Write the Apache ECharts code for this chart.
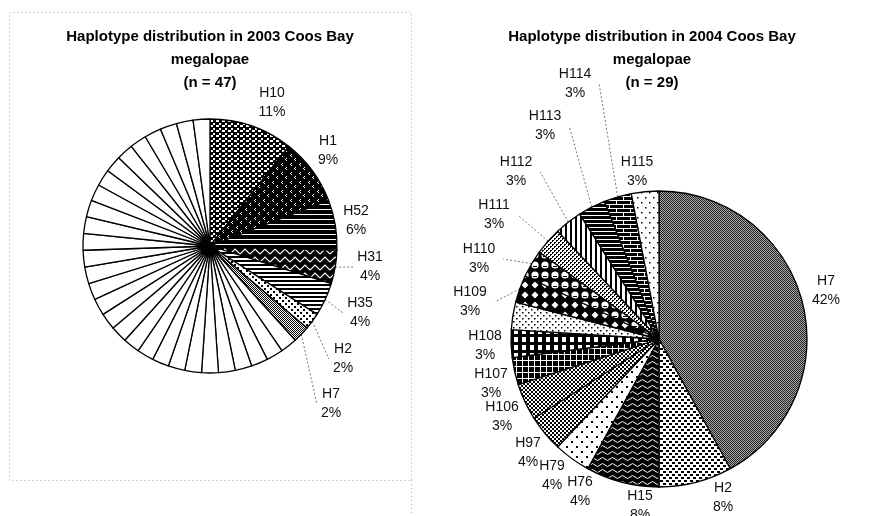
<!DOCTYPE html>
<html>
<head>
<meta charset="utf-8">
<script src="https://cdn.jsdelivr.net/npm/echarts@6/dist/echarts.min.js"></script>
<style>
  html, body { margin: 0; padding: 0; background: #fff; }
  #chart { width: 881px; height: 516px; }
</style>
</head>
<body>
<div id="chart"></div>
<script>
// ---- 2003 sample (n = 47): haplotypes seen more than once, and their counts
const hap2003 = ['H10', 'H1', 'H52', 'H31', 'H35', 'H2', 'H7'];
const count2003 = [5, 4, 3, 2, 2, 1, 1];
// haplotypes carried by a single megalopa each (unlabelled white slices)
const single2003 = [1, 1, 1, 1, 1, 1, 1, 1, 1, 1, 1, 1, 1, 1, 1, 1, 1, 1, 1, 1, 1, 1, 1, 1, 1, 1, 1, 1, 1];

// ---- 2004 sample (n = 29): haplotypes and their share of the sample (%)
const hap2004 = ['H7', 'H2', 'H15', 'H76', 'H79', 'H97', 'H106', 'H107', 'H108',
                 'H109', 'H110', 'H111', 'H112', 'H113', 'H114', 'H115'];
const pct2004 = [42, 8, 8, 4, 4, 4, 3, 3, 3, 3, 3, 3, 3, 3, 3, 3];

const title2003 = 'Haplotype distribution in 2003 Coos Bay\nmegalopae\n(n = 47)';
const title2004 = 'Haplotype distribution in 2004 Coos Bay\nmegalopae\n(n = 29)';

// ---- layout: pie geometry and label placement (offsets from the pie centre)
const pie2003 = { cx: 210, cy: 246, r: 127 };
const pie2004 = { cx: 659, cy: 339, r: 148 };
const labelOffset2003 = [[62, -143], [118, -95], [146, -25], [160, 21], [150, 67], [133, 113], [121, 158]];
const leader2003 = [false, false, false, true, true, true, true];
const labelOffset2004 = [[167, -48], [64, 159], [-19, 167], [-79, 153], [-107, 137], [-131, 114],
                         [-157, 78], [-168, 45], [-174, 7], [-189, -37], [-180, -80], [-165, -124],
                         [-143, -167], [-114, -213], [-84, -255], [-22, -167]];
const leader2004 = [false, false, false, false, false, false, false, false, false,
                    true, true, true, true, true, true, false];

const FONT = '"Liberation Sans", Arial, Helvetica, sans-serif';

// ---- monochrome fill patterns
function tile(w, h, bg, draw) {
  const c = document.createElement('canvas');
  c.width = w; c.height = h;
  const g = c.getContext('2d');
  g.fillStyle = bg; g.fillRect(0, 0, w, h);
  g.fillStyle = bg === '#000' ? '#fff' : '#000';
  g.strokeStyle = g.fillStyle;
  draw(g);
  return { image: c, repeat: 'repeat' };
}
const px = (g, pts) => pts.forEach(p => g.fillRect(p[0], p[1], p[2] || 1, p[3] || 1));

const patterns2003 = [
  // H10: white blocks on black
  tile(6, 5, '#000', g => px(g, [[0, 0, 3, 2], [3, 3, 2, 2]])),
  // H1: black with small white chevrons
  tile(9, 9, '#000', g => px(g, [[3, 1], [2, 2], [3, 3], [7, 5], [6, 6], [7, 7]])),
  // H52: white rules on black
  tile(1, 5, '#000', g => px(g, [[0, 4]])),
  // H31: white zig-zag on black
  tile(10, 8, '#000', g => { g.lineWidth = 1.2; g.beginPath(); g.moveTo(0, 6); g.lineTo(5, 1); g.lineTo(10, 6); g.stroke(); }),
  // H35: even horizontal stripes
  tile(1, 4, '#fff', g => px(g, [[0, 0, 1, 2]])),
  // H2: black dots on white
  tile(6, 6, '#fff', g => px(g, [[0, 0, 2, 2], [3, 3, 2, 2]])),
  // H7: fine stipple
  tile(2, 2, '#fff', g => px(g, [[0, 0], [1, 1]]))
];

const patterns2004 = [
  // H7: dark grey halftone
  tile(2, 2, '#a8a8a8', g => { g.fillStyle = '#222'; px(g, [[0, 0], [1, 1]]); }),
  // H2: black dashes on white
  tile(6, 6, '#fff', g => px(g, [[0, 0, 3, 2], [3, 3, 3, 2]])),
  // H15: white waves on black
  tile(10, 6, '#000', g => { g.lineWidth = 1; g.beginPath(); g.moveTo(0, 3); g.quadraticCurveTo(2.5, 0, 5, 3); g.quadraticCurveTo(7.5, 6, 10, 3); g.stroke(); }),
  // H76: sparse dots on white
  tile(10, 10, '#fff', g => px(g, [[1, 1, 2, 2], [6, 6, 2, 2]])),
  // H79: small checks
  tile(4, 4, '#fff', g => px(g, [[0, 0, 2, 2], [2, 2, 2, 2]])),
  // H97: fine diagonal lattice
  tile(4, 4, '#fff', g => px(g, [[0, 0], [1, 1], [2, 2], [3, 3], [3, 0], [2, 1], [1, 2], [0, 3]])),
  // H106: white grid on black
  tile(6, 6, '#000', g => px(g, [[0, 0, 6, 1], [0, 0, 1, 6]])),
  // H107: white windows on black
  tile(8, 8, '#000', g => px(g, [[2, 1, 4, 5]])),
  // H108: small dots on white
  tile(6, 6, '#fff', g => px(g, [[0, 0, 1.5, 1.5], [3, 3, 1.5, 1.5]])),
  // H109: white diamonds on black
  tile(10, 10, '#000', g => { g.beginPath(); g.moveTo(5, 1.5); g.lineTo(8.5, 5); g.lineTo(5, 8.5); g.lineTo(1.5, 5); g.closePath(); g.fill(); }),
  // H110: white bubbles on black
  tile(10, 10, '#000', g => { g.beginPath(); g.arc(5, 5, 3.6, 0, Math.PI * 2); g.fill(); g.fillStyle = '#000'; g.fillRect(3, 6, 4, 1); }),
  // H111: fine dotted grey
  tile(4, 4, '#fff', g => px(g, [[0, 0, 2, 1], [2, 2, 2, 1], [0, 1], [2, 3]])),
  // H112: vertical stripes
  tile(5, 1, '#fff', g => px(g, [[0, 0, 2, 1]])),
  // H113: white rules on black
  tile(1, 4, '#000', g => px(g, [[0, 3]])),
  // H114: brick
  tile(14, 8, '#000', g => px(g, [[0, 0, 14, 1], [0, 4, 14, 1], [0, 0, 1, 4], [7, 4, 1, 4]])),
  // H115: sparse dots on white
  tile(8, 10, '#fff', g => px(g, [[1, 2, 1.5, 1.5], [5, 7, 1.5, 1.5]]))
];

// ---- series data
const data2003 = hap2003.map((name, i) => ({
  name, value: count2003[i],
  itemStyle: { color: patterns2003[i] },
  labelLine: { show: leader2003[i] }
})).concat(single2003.map(v => ({
  name: '', value: v,
  itemStyle: { color: '#fff' },
  label: { show: false }, labelLine: { show: false }
})));

const data2004 = hap2004.map((name, i) => ({
  name, value: pct2004[i],
  itemStyle: { color: patterns2004[i] },
  labelLine: { show: leader2004[i] }
}));

function placeLabels(pie, offsets, leaders) {
  return function (p) {
    const off = offsets[p.dataIndex];
    if (!off) return {};
    const x = pie.cx + off[0], y = pie.cy + off[1];
    const out = { x, y, align: 'center', verticalAlign: 'middle' };
    if (leaders[p.dataIndex] && p.labelLinePoints) {
      const e = p.labelLinePoints[0];
      const w = p.labelRect.width;
      const lx = off[0] >= 0 ? x - w / 2 - 4 : x + w / 2 + 8;
      const ly = y;
      out.labelLinePoints = [[e[0], e[1]], [(e[0] + lx) / 2, (e[1] + ly) / 2], [lx, ly]];
    }
    return out;
  };
}

function pieSeries(pie, data, offsets, leaders, fmt) {
  return {
    type: 'pie',
    center: [pie.cx, pie.cy],
    radius: pie.r,
    startAngle: 90,
    clockwise: true,
    avoidLabelOverlap: false,
    animation: false,
    silent: true,
    emphasis: { disabled: true },
    itemStyle: { borderColor: '#000', borderWidth: 1.3 },
    label: {
      show: true, position: 'outside', formatter: fmt,
      color: '#111', fontFamily: FONT, fontSize: 14, lineHeight: 19, align: 'center'
    },
    labelLine: {
      length: 4, length2: 4,
      lineStyle: { color: '#777', width: 1, type: [2, 2] }
    },
    labelLayout: placeLabels(pie, offsets, leaders),
    data
  };
}

const titleStyle = { fontFamily: FONT, fontSize: 15, fontWeight: 'bold', color: '#000', lineHeight: 23 };

const chart = echarts.init(document.getElementById('chart'), null, { renderer: 'canvas' });
chart.setOption({
  backgroundColor: '#fff',
  animation: false,
  title: [
    { text: title2003, left: 210, top: 25, padding: 0, textAlign: 'center', textStyle: titleStyle },
    { text: title2004, left: 652, top: 25, padding: 0, textAlign: 'center', textStyle: titleStyle }
  ],
  graphic: [
    { type: 'rect', silent: true, shape: { x: 9.5, y: 12.5, width: 402, height: 468 },
      style: { fill: 'none', stroke: '#aaa', lineWidth: 1, lineDash: [1, 3] } },
    { type: 'line', silent: true, shape: { x1: 411.5, y1: 480, x2: 411.5, y2: 516 },
      style: { stroke: '#aaa', lineWidth: 1, lineDash: [1, 3] } }
  ],
  series: [
    pieSeries(pie2003, data2003, labelOffset2003, leader2003,
      p => p.name + '\n' + Math.round(p.percent) + '%'),
    pieSeries(pie2004, data2004, labelOffset2004, leader2004,
      p => p.name + '\n' + p.value + '%')
  ]
});
</script>
</body>
</html>
